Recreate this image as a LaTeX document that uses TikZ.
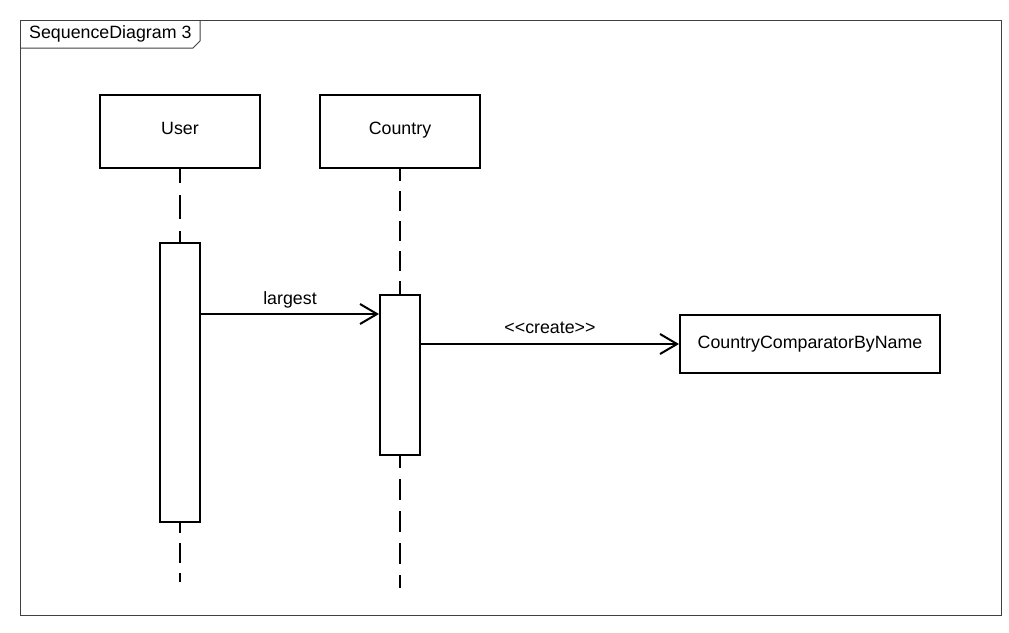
\documentclass[tikz,border=0pt]{standalone}
\usepackage{fontspec}
\setmainfont{Liberation Sans}
\usetikzlibrary{arrows.meta}
\begin{document}
\begin{tikzpicture}[x=1pt,y=-1pt,
  every node/.style={font=\fontsize{17.8}{21}\selectfont, inner sep=0pt},
  frameline/.style={draw=black!75, line width=1pt},
  headbox/.style={draw, line width=2pt, minimum width=160pt, minimum height=73pt,
                  text height=12.7pt, text depth=6.5pt},
  objbox/.style={draw, line width=2pt, minimum width=260pt, minimum height=58pt},
  actbox/.style={draw, fill=white, line width=2pt, minimum width=40pt},
  lifeline/.style={line width=2pt, dash pattern=on 20pt off 10pt},
  msg/.style={line width=2pt, -{Straight Barb[length=17pt, width=20pt, line width=2pt]}},
  msglabel/.style={anchor=base}
]
% canvas
\useasboundingbox (0,0) rectangle (1009,632);

% diagram frame with its title tab
\draw[frameline] (20,20) rectangle (1001,615);
\draw[frameline] (200,20) -- (200,41) -- (193,48) -- (20,48);
\node[anchor=base west] (title) at (29,38.3) {SequenceDiagram 3};

% lifeline heads
\node[headbox] (user) at (180,131.5) {User};
\node[headbox] (country) at (400,131.5) {Country};

% activation bars
\node[actbox, minimum height=279pt] (uact) at (180,382.5) {};
\node[actbox, minimum height=160pt] (cact) at (400,375) {};

% created object
\node[objbox] (ccbn) at (810,344) {CountryComparatorByName};

% lifelines
\coordinate (uend) at (180,582);
\coordinate (cend) at (400,588);
\draw[lifeline, dash pattern=on 24pt off 12pt, dash phase=10pt] (user.south) -- (uact.north);
\draw[lifeline, dash phase=10pt] (uact.south) -- (uend);
\draw[lifeline, dash phase=8pt] (country.south) -- (cact.north);
\draw[lifeline, dash pattern=on 21pt off 11pt, dash phase=9pt] (cact.south) -- (cend);

% messages (the \kern keeps << and >> from turning into guillemets)
\draw[msg] (uact.east |- 0,314) -- node[msglabel, yshift=10pt] (m1) {largest} (cact.west |- 0,314);
\draw[msg] (cact.east |- ccbn.west) -- node[msglabel, yshift=11pt] (m2)
  {<\kern0pt<create>\kern0pt>} (ccbn.west);
\end{tikzpicture}
\end{document}
